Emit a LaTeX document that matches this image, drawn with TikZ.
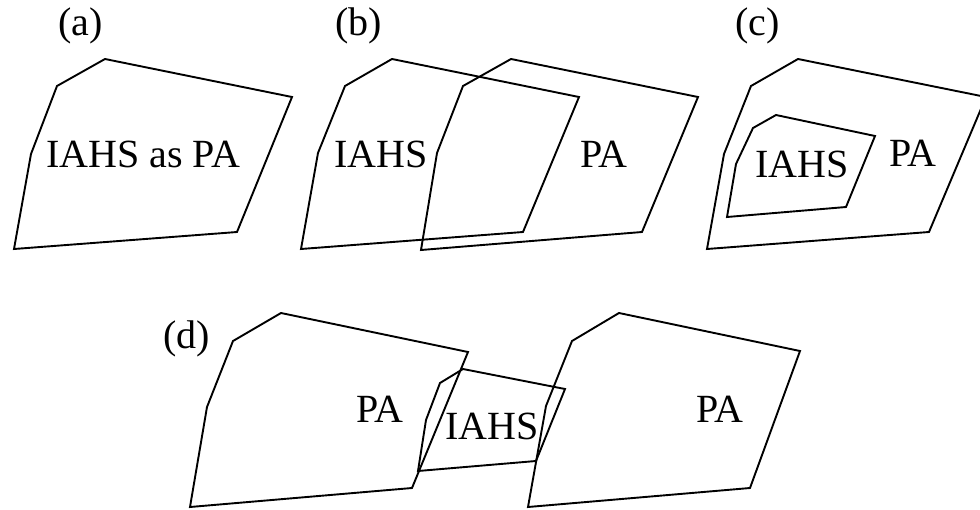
\documentclass[tikz,border=0pt]{standalone}
\usepackage{fontspec}
\setmainfont{Liberation Serif}
\begin{document}
\begin{tikzpicture}[x=1pt,y=-1pt,
  region/.style={draw=black,line width=1.9pt,line join=miter},
  lbl/.style={anchor=base west,inner sep=0pt,font=\fontsize{40}{48}\selectfont}]
\useasboundingbox (0,0) rectangle (980,509);

% (a) one area that is both IAHS and PA
\draw[region] (105,59) -- (292,97) -- (237,232) -- (14,249) -- (31,154) -- (57,86) -- cycle;
\node[lbl] (lab-a) at (58,35) {(a)};
\node[lbl] (txt-a) at (46,167) {IAHS as PA};

% (b) IAHS and PA partly overlapping
\draw[region] (392,59) -- (579,97) -- (523,232) -- (301,249) -- (318,153) -- (345,86) -- cycle;
\draw[region] (511,59) -- (698,97) -- (642,232) -- (421,250) -- (437,153) -- (463,86) -- cycle;
\node[lbl] (lab-b) at (335,35) {(b)};
\node[lbl] (txt-b1) at (334,167) {IAHS};
\node[lbl] (txt-b2) at (580,167) {PA};

% (c) IAHS nested inside PA
\draw[region] (798,59) -- (986,97) -- (929,232) -- (707,249) -- (724,154) -- (751,86) -- cycle;
\draw[region] (776,115) -- (875,136) -- (846,207) -- (727,217) -- (736,164) -- (753,128) -- cycle;
\node[lbl] (lab-c) at (735,35) {(c)};
\node[lbl] (txt-c1) at (755,177) {IAHS};
\node[lbl] (txt-c2) at (889,166) {PA};

% (d) IAHS bridging two PAs
\draw[region] (281,313) -- (468,352) -- (412,488) -- (190,507) -- (207,407) -- (233,341) -- cycle;
\draw[region] (619,313) -- (800,351) -- (750,488) -- (528,507) -- (546,406) -- (572,341) -- cycle;
\draw[region] (463,369) -- (565,389) -- (536,461) -- (418,471) -- (426,420) -- (440,383) -- cycle;
\node[lbl] (lab-d) at (163,348) {(d)};
\node[lbl] (txt-d1) at (356,422) {PA};
\node[lbl] (txt-d2) at (445,439) {IAHS};
\node[lbl] (txt-d3) at (696,422) {PA};
\end{tikzpicture}
\end{document}
